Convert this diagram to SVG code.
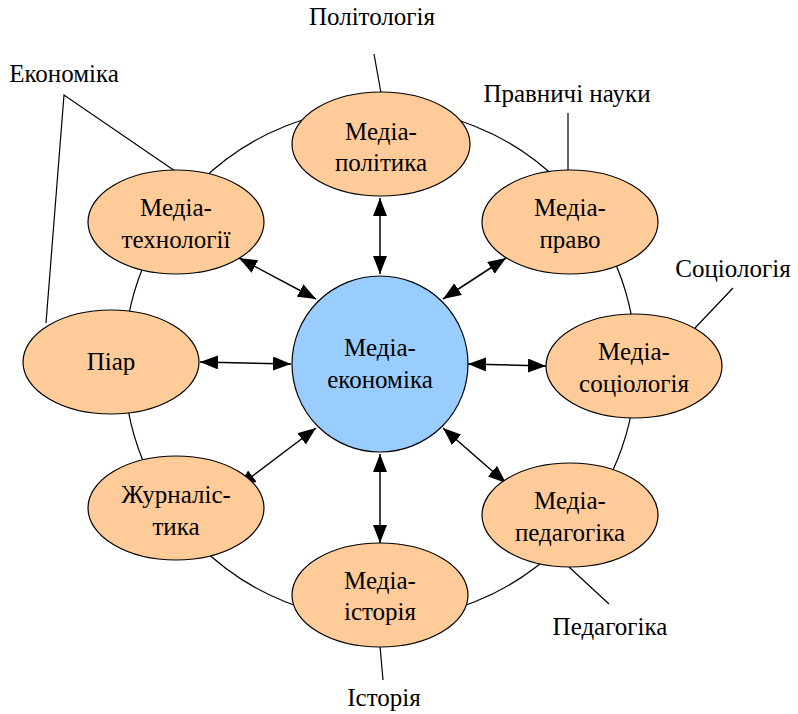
<svg xmlns="http://www.w3.org/2000/svg" width="798" height="714" viewBox="0 0 798 714">
<style>
.n{fill:#ffcc99;stroke:#000;stroke-width:1.2}
.c{fill:#99ccff;stroke:#000;stroke-width:1.2}
.ln{stroke:#000;stroke-width:1.2;fill:none}
.a{stroke:#000;stroke-width:1.5;fill:none;marker-start:url(#ah);marker-end:url(#ah)}
</style>
<defs>
<marker id="ah" viewBox="0 0 18 14" refX="18" refY="7" markerWidth="18" markerHeight="14" markerUnits="userSpaceOnUse" orient="auto-start-reverse">
<path d="M0,0 L18,7 L0,14 Z" fill="#000"/>
</marker>
</defs>
<rect width="798" height="714" fill="#fff"/>
<g id="ring"><circle cx="380" cy="364" r="256" class="ln"/></g>
<g id="connectors">
<line class="a" x1="380" y1="274" x2="380" y2="198"/>
<line class="a" x1="316" y1="299" x2="239" y2="258"/>
<line class="a" x1="291" y1="364" x2="200" y2="362"/>
<line class="a" x1="443" y1="299" x2="506" y2="258"/>
<line class="a" x1="468" y1="364" x2="546" y2="366"/>
<line class="a" x1="316" y1="428" x2="238" y2="487"/>
<line class="a" x1="443" y1="428" x2="506" y2="483"/>
<line class="a" x1="380" y1="454" x2="380" y2="543"/>
<path class="ln" d="M374,54 L381,93"/>
<path class="ln" d="M568,113 L568,170"/>
<path class="ln" d="M175,171 L64,95 L46,323"/>
<path class="ln" d="M733,288 L695,328"/>
<path class="ln" d="M569,567 L609,604"/>
<path class="ln" d="M380,646 L383,680"/>
</g>
<g id="center"><circle cx="380" cy="364" r="88" class="c"/><g font-family="Liberation Serif, serif" font-size="25" text-anchor="middle"><text x="380" y="356">Медіа-</text><text x="380" y="388">економіка</text></g></g>
<g id="politika"><ellipse cx="381" cy="144" rx="89" ry="52" class="n"/><g font-family="Liberation Serif, serif" font-size="25" text-anchor="middle"><text x="381" y="140">Медіа-</text><text x="381" y="171">політика</text></g></g>
<g id="tekhnolohii"><ellipse cx="176" cy="222" rx="88" ry="52" class="n"/><g font-family="Liberation Serif, serif" font-size="25" text-anchor="middle"><text x="176" y="216">Медіа-</text><text x="176" y="248">технології</text></g></g>
<g id="pravo"><ellipse cx="570" cy="222" rx="88" ry="52" class="n"/><g font-family="Liberation Serif, serif" font-size="25" text-anchor="middle"><text x="570" y="216">Медіа-</text><text x="570" y="248">право</text></g></g>
<g id="piar"><ellipse cx="111" cy="362" rx="88" ry="52" class="n"/><g font-family="Liberation Serif, serif" font-size="25" text-anchor="middle"><text x="111" y="370">Піар</text></g></g>
<g id="sotsiolohiia"><ellipse cx="634" cy="366" rx="88" ry="52" class="n"/><g font-family="Liberation Serif, serif" font-size="25" text-anchor="middle"><text x="634" y="360">Медіа-</text><text x="634" y="392">соціологія</text></g></g>
<g id="zhurnalistyka"><ellipse cx="176" cy="508" rx="88" ry="52" class="n"/><g font-family="Liberation Serif, serif" font-size="25" text-anchor="middle"><text x="176" y="503">Журналіс-</text><text x="176" y="535">тика</text></g></g>
<g id="pedahohika"><ellipse cx="570" cy="515" rx="88" ry="52" class="n"/><g font-family="Liberation Serif, serif" font-size="25" text-anchor="middle"><text x="570" y="509">Медіа-</text><text x="570" y="541">педагогіка</text></g></g>
<g id="istoriia"><ellipse cx="380" cy="595" rx="88" ry="52" class="n"/><g font-family="Liberation Serif, serif" font-size="25" text-anchor="middle"><text x="380" y="589">Медіа-</text><text x="380" y="620">історія</text></g></g>
<g id="labels" font-family="Liberation Serif, serif" font-size="25" text-anchor="middle">
<text x="372" y="25">Політологія</text>
<text x="567" y="102">Правничі науки</text>
<text x="64" y="82">Економіка</text>
<text x="733" y="277">Соціологія</text>
<text x="610" y="635">Педагогіка</text>
<text x="384" y="706">Історія</text>
</g>
</svg>
